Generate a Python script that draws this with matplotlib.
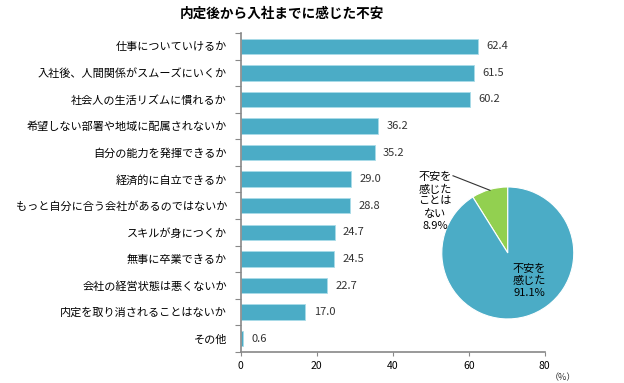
import matplotlib
matplotlib.use("Agg")
from matplotlib import pyplot as plt

plt.rcParams['font.family'] = ['Noto Sans CJK JP', 'DejaVu Sans']

labels = ["仕事についていけるか", "入社後、人間関係がスムーズにいくか", "社会人の生活リズムに慣れるか",
          "希望しない部署や地域に配属されないか", "自分の能力を発揮できるか", "経済的に自立できるか",
          "もっと自分に合う会社があるのではないか", "スキルが身につくか", "無事に卒業できるか",
          "会社の経営状態は悪くないか", "内定を取り消されることはないか", "その他"]
values = [62.4, 61.5, 60.2, 36.2, 35.2, 29.0, 28.8, 24.7, 24.5, 22.7, 17.0, 0.6]
pie_labels = ["不安を\n感じた\nことは\nない", "不安を\n感じた"]
pie_values = [8.9, 91.1]

blue = "#4BACC6"
green = "#92D050"

fig = plt.figure(figsize=(6.24, 3.83), dpi=100)
ax = fig.add_axes([0.386, 0.081, 0.487, 0.833])

y = list(range(len(values)))
ax.barh(y, values, height=0.58, color=blue, edgecolor="#A9DCE8", linewidth=0.6)
for yi, v in zip(y, values):
    ax.text(v + 2.2, yi, "%.1f" % v, va="center", ha="left", fontsize=8, color="#333333")
ax.set_ylim(len(values) - 0.5, -0.5)
ax.set_xlim(0, 80)
ax.set_xticks([0, 20, 40, 60, 80])
ax.set_yticks([i - 0.5 for i in range(len(values) + 1)], minor=False)
ax.set_yticklabels([])
ax.set_yticks(y, minor=True)
ax.set_yticklabels(labels, minor=True, fontsize=8)
ax.tick_params(axis="y", which="minor", length=0, pad=10)
ax.tick_params(axis="y", which="major", length=4, color="#888888")
ax.tick_params(axis="x", length=3, color="#888888", labelsize=7.5)
for s in ["top", "right"]:
    ax.spines[s].set_visible(False)
for s in ["left", "bottom"]:
    ax.spines[s].set_color("#888888")
    ax.spines[s].set_linewidth(1.2)
ax.text(1.06, -0.08, "（%）", fontsize=6.5, ha="center", va="center", color="#333333",
        transform=ax.transAxes)

fig.text(0.452, 0.963, "内定後から入社までに感じた不安", ha="center", va="center", fontsize=9.8, fontweight="bold")

pax = fig.add_axes([0.708, 0.167, 0.2115, 0.345])
pax.pie(pie_values, colors=[green, blue], startangle=90, counterclock=True,
        wedgeprops=dict(edgecolor="white", linewidth=0.8))
pax.set_xlim(-1, 1)
pax.set_ylim(-1, 1)
pax.text(0.33, -0.42, pie_labels[1] + "\n%.1f%%" % pie_values[1], ha="center", va="center",
         fontsize=8, linespacing=1.25)
pax.text(-1.1, 0.78, pie_labels[0] + "\n%.1f%%" % pie_values[0], ha="center", va="center",
         fontsize=8, linespacing=1.25, clip_on=False)
pax.plot([-0.83, -0.27], [1.17, 0.95], color="#333333", lw=0.8, clip_on=False)

fig.savefig("out.png", dpi=100)
